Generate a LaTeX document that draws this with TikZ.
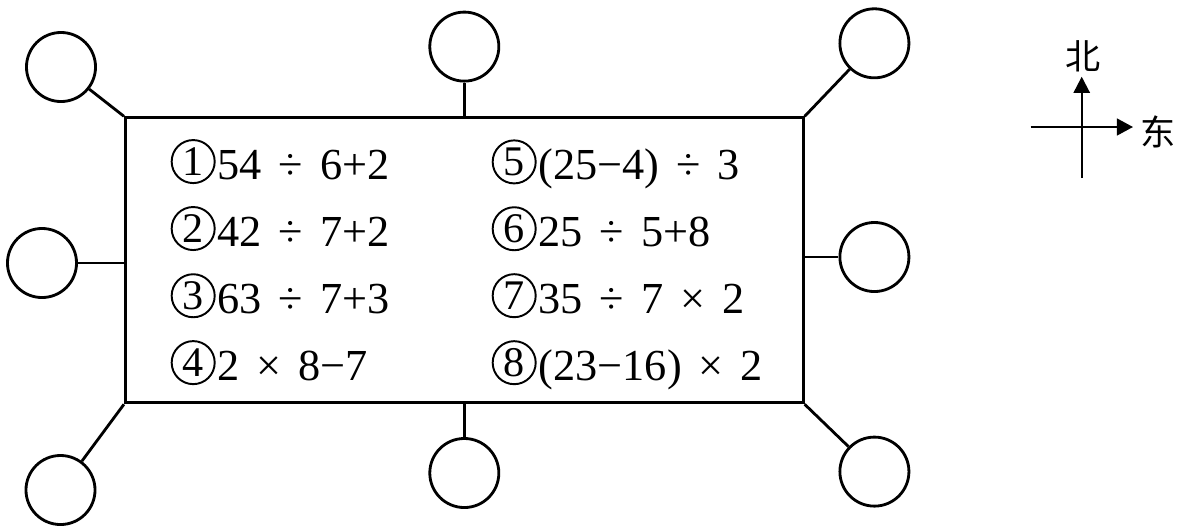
\documentclass[tikz,border=0pt]{standalone}
\usepackage{fontspec}
\setmainfont{Liberation Serif}
\newfontfamily\tms{Liberation Serif}
\newfontfamily\cjk{Noto Sans CJK SC}
\usetikzlibrary{arrows.meta}

\newcommand{\circnum}[1]{\tikz[baseline={([yshift=-0.035cm]cn.base)}]\node[draw,circle,line width=0.55pt,minimum size=0.43cm,inner sep=0pt,font=\tms\fontsize{12}{14}\selectfont] (cn) {#1};\hspace{0.02cm}}
\newcommand{\opgap}{\hspace{0.17cm}}

\begin{document}
\begin{tikzpicture}[x=0.01cm,y=-0.01cm,line width=0.8pt,
  spot/.style={draw,circle,minimum size=0.69cm,inner sep=0pt},
  expr/.style={anchor=base west,inner sep=0pt,font=\tms\fontsize{12.6}{15}\selectfont},
  dirlabel/.style={font=\cjk\fontsize{10}{12}\selectfont,inner sep=0pt}]
\useasboundingbox (0,0) rectangle (1192,530);

% Frame with the expressions
\node[draw,minimum width=6.775cm,minimum height=2.85cm,inner sep=0pt] (box) at (464.3,260.3) {};
\node[expr] (e1) at (170,179) {\circnum{1}54\opgap÷\opgap6+2};
\node[expr] (e2) at (170,246) {\circnum{2}42\opgap÷\opgap7+2};
\node[expr] (e3) at (170,313) {\circnum{3}63\opgap÷\opgap7+3};
\node[expr] (e4) at (170,380) {\circnum{4}2\opgap×\opgap8−7};
\node[expr] (e5) at (491,179) {\circnum{5}(25−4)\opgap÷\opgap3};
\node[expr] (e6) at (491,246) {\circnum{6}25\opgap÷\opgap5+8};
\node[expr] (e7) at (491,313) {\circnum{7}35\opgap÷\opgap7\opgap×\opgap2};
\node[expr] (e8) at (491,380) {\circnum{8}(23−16)\opgap×\opgap2};

% Empty circles round the frame
\node[spot] (nw) at (61,67) {};
\node[spot] (n) at (464.3,46.6) {};
\node[spot] (ne) at (874.4,43.3) {};
\node[spot] (w) at (42,263) {};
\node[spot] (e) at (874.4,257) {};
\node[spot] (sw) at (60.5,490) {};
\node[spot] (s) at (464.3,473) {};
\node[spot] (se) at (874.4,471.6) {};

% Spokes
\draw (box.north west) -- (nw);
\draw (box.north) -- (n);
\draw (box.north east) -- (ne);
\draw (w -| box.west) -- (w);
\draw (e -| box.east) -- (e);
\draw (box.south west) -- (sw);
\draw (box.south) -- (s);
\draw (box.south east) -- (se);

% Compass
\coordinate (south) at (1081.7,178);
\coordinate (ntip) at (1081.7,76.7);
\coordinate (west) at (1030.7,127);
\coordinate (etip) at (1133,127);
\node[dirlabel] (bei) at (1083,56.7) {北};
\node[dirlabel] (dong) at (1158,131.7) {东};
\draw[line width=0.6pt,-{Triangle[length=4.6pt,width=4.6pt]}] (south) -- (ntip);
\draw[line width=0.6pt,-{Triangle[length=4.6pt,width=4.8pt]}] (west) -- (etip);

\end{tikzpicture}
\end{document}
